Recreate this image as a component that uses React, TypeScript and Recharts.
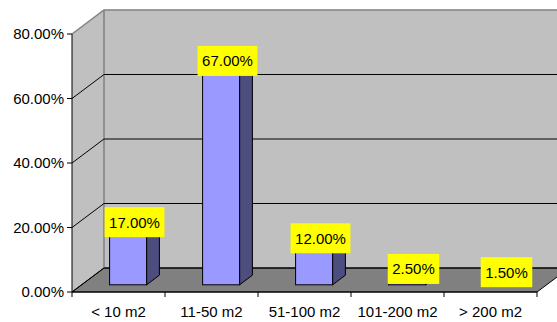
import { Bar, BarChart, LabelList, ReferenceArea, XAxis, YAxis } from "recharts";

// Share of dwellings by floor area
const categories = ["< 10 m2", "11-50 m2", "51-100 m2", "101-200 m2", "> 200 m2"];
const shares = [0.17, 0.67, 0.12, 0.025, 0.015];
const yTicks = [0, 0.2, 0.4, 0.6, 0.8];

const data = categories.map((name, i) => ({ name, share: shares[i] }));

// 3D depth of the wall box, and where the bars sit inside it
const DX = 32;
const DY = 24;
const BAR_FRONT = 0.3;
const BAR_BACK = 0.7;

const FONT = "Arial, 'Liberation Sans', sans-serif";
const FONT_SIZE = 15;

const pct = (v: number) => `${(v * 100).toFixed(2)}%`;

// rough Arial advance widths, enough to size the yellow tags
const textWidth = (s: string) =>
  s.split("").reduce((w, c) => w + (c === "." ? 0.278 : c === "%" ? 0.889 : 0.556), 0) * FONT_SIZE;

function Walls(props: any) {
  const { x, y, width, height } = props;
  const b = y + height;
  return (
    <g>
      <polygon points={`${x},${y} ${x + DX},${y - DY} ${x + DX},${b - DY} ${x},${b}`} fill="#c0c0c0" />
      <rect x={x + DX} y={y - DY} width={width + DX} height={height} fill="#c0c0c0" />
      <polygon
        points={`${x},${b} ${x + width},${b} ${x + width + DX},${b - DY} ${x + DX},${b - DY}`}
        fill="#808080"
        stroke="#000"
        strokeWidth={1}
      />
      <line x1={x + DX} y1={y - DY} x2={x + DX} y2={b - DY} stroke="#808080" strokeWidth={1.5} />
    </g>
  );
}

// one gridline per tick: diagonal on the side wall, then across the back wall
function GridLine(props: any) {
  const { x, y, width, top } = props;
  return (
    <polyline
      points={`${x},${y} ${x + DX},${y - DY} ${x + width + DX * 2},${y - DY}`}
      fill="none"
      stroke={top ? "#808080" : "#000"}
      strokeWidth={top ? 1.5 : 1}
    />
  );
}

function Bar3D(props: any) {
  const { x, y, width, height } = props;
  if (x == null || width == null) return null;
  const fx = x + DX * BAR_FRONT;
  const fy = y - DY * BAR_FRONT;
  const dx = DX * (BAR_BACK - BAR_FRONT);
  const dy = DY * (BAR_BACK - BAR_FRONT);
  const bottom = fy + height;
  return (
    <g>
      <polygon
        points={`${fx + width},${fy} ${fx + width + dx},${fy - dy} ${fx + width + dx},${bottom - dy} ${fx + width},${bottom}`}
        fill="#4d4d80"
        stroke="#000"
        strokeWidth={1}
      />
      <polygon
        points={`${fx},${fy} ${fx + dx},${fy - dy} ${fx + width + dx},${fy - dy} ${fx + width},${fy}`}
        fill="#7a7acc"
        stroke="#000"
        strokeWidth={1}
      />
      <rect x={fx} y={fy} width={width} height={height} fill="#9999ff" stroke="#000" strokeWidth={1} />
    </g>
  );
}

function ValueTag(props: any) {
  const { x, y, width, value } = props;
  const cx = x + width / 2 + DX * 0.5;
  const cy = y - 15;
  const text = pct(value);
  const w = textWidth(text) + 9;
  return (
    <g>
      <rect x={cx - w / 2} y={cy - 15} width={w} height={30} fill="#ffff00" />
      <text x={cx} y={cy} textAnchor="middle" dominantBaseline="central" fontSize={FONT_SIZE} fontFamily={FONT} fill="#000">
        {text}
      </text>
    </g>
  );
}

function CategoryTick(props: any) {
  const { x, y, payload, width, visibleTicksCount, index } = props;
  const band = (width ?? 465) / (visibleTicksCount ?? categories.length);
  const last = index === categories.length - 1;
  return (
    <g>
      <line x1={x - band / 2} y1={y} x2={x - band / 2} y2={y + 5} stroke="#000" />
      {last && <line x1={x + band / 2} y1={y} x2={x + band / 2} y2={y + 5} stroke="#000" />}
      <text x={x} y={y + 25} textAnchor="middle" fontSize={FONT_SIZE} fontFamily={FONT} fill="#000">
        {payload.value}
      </text>
    </g>
  );
}

export default function App() {
  return (
    <div style={{ position: "absolute", left: 0, top: 0, background: "#fff" }}>
      <BarChart
        width={557}
        height={322}
        data={data}
        margin={{ top: 34, right: 20, bottom: 0, left: 0 }}
        style={{ fontFamily: FONT }}
      >
        <ReferenceArea y1={0} y2={0.8} shape={<Walls />} ifOverflow="visible" />
        {yTicks.map((v, i) => (
          <ReferenceArea
            key={`grid-${v}`}
            y1={v}
            y2={v}
            ifOverflow="visible"
            shape={<GridLine top={i === yTicks.length - 1} />}
          />
        ))}
        <XAxis
          dataKey="name"
          height={30}
          tickLine={false}
          tickSize={0}
          tickMargin={0}
          axisLine={{ stroke: "#000" }}
          tick={<CategoryTick />}
          interval={0}
        />
        <YAxis
          width={72}
          domain={[0, 0.8]}
          ticks={yTicks}
          tickFormatter={pct}
          tickSize={5}
          tickMargin={3}
          axisLine={{ stroke: "#000" }}
          tickLine={{ stroke: "#000" }}
          tick={{ fontSize: FONT_SIZE, fill: "#000", fontFamily: FONT }}
        />
        <Bar dataKey="share" barSize={37} shape={<Bar3D />} isAnimationActive={false}>
          <LabelList dataKey="share" content={<ValueTag />} />
        </Bar>
      </BarChart>
    </div>
  );
}
